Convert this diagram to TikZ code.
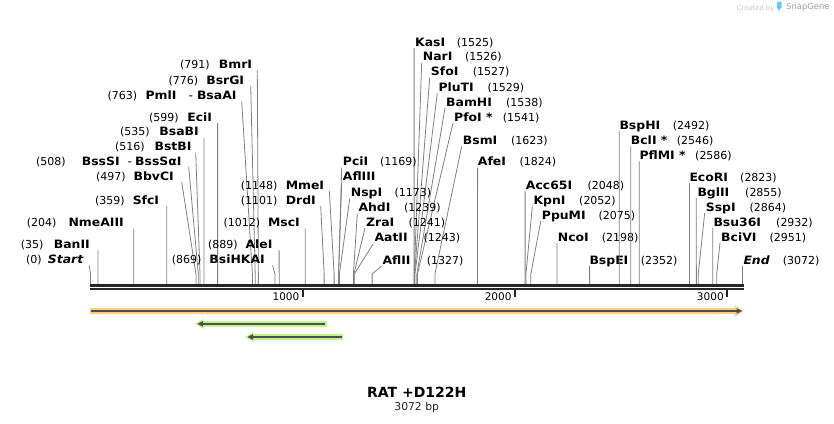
\documentclass[tikz,border=0pt]{standalone}
\usepackage{fontspec}
\setmainfont{DejaVu Sans}
\newfontfamily\namefont{DejaVu Sans}[FakeStretch=1.08]
\usetikzlibrary{calc}
\definecolor{sitegray}{RGB}{128,128,128}
\definecolor{bbcol}{RGB}{38,38,38}
\definecolor{orangeF}{RGB}{255,207,128}
\definecolor{greenF}{RGB}{190,245,140}
\definecolor{featline}{RGB}{77,77,77}
\definecolor{sgblue}{RGB}{100,200,245}
\tikzset{
  lname/.style={font=\namefont\fontsize{11.5}{13}\selectfont\bfseries, inner sep=0pt, text=black},
  lnum/.style={font=\fontsize{11}{13}\selectfont, inner sep=0pt, text=black},
  siteline/.style={draw=sitegray, line width=0.8pt},
  backbone/.style={draw=bbcol, line width=2.7pt},
  ticklbl/.style={font=\fontsize{10.5}{12}\selectfont, inner sep=0pt, anchor=base east},
}
% id, name, number, name right x, baseline, number left x, line top x, bp
\newcommand{\LeftSite}[8]{%
  \node[lname, anchor=base east] (n#1) at (#4,#5) {#2};
  \node[lnum, anchor=base west] (m#1) at (#6,#5) {(#3)};
  \coordinate (t#1) at (#7,{#5+2});
  \coordinate (s#1) at ({90.5+0.2122*#8},274);
  \coordinate (b#1) at ({90.5+0.2122*#8},284);
  \draw[siteline] (t#1) -- (s#1) -- (b#1);
}
% id, name, number, name left x, baseline, number left x, line top x, bp
\newcommand{\RightSite}[8]{%
  \node[lname, anchor=base west] (n#1) at (#4,#5) {#2};
  \node[lnum, anchor=base west] (m#1) at (#6,#5) {(#3)};
  \coordinate (t#1) at (#7,{#5+2});
  \coordinate (s#1) at ({90.5+0.2122*#8},274);
  \coordinate (b#1) at ({90.5+0.2122*#8},284);
  \draw[siteline] (t#1) -- (s#1) -- (b#1);
}
\begin{document}
\begin{tikzpicture}[x=1pt,y=-1pt]
\fill[white] (0,0) rectangle (834,423);
\useasboundingbox (0,0) rectangle (834,423);

% watermark
\node[anchor=base west, inner sep=0pt, font=\fontsize{6.8}{8}\selectfont, text=gray!45] (createdby) at (736.7,10) {Created by};
\fill[sgblue, rounded corners=1pt] (777,1.5) rectangle (781.7,8.5);
\fill[sgblue] (777,7) -- (779.3,12) -- (779.3,7) -- cycle;
\node[anchor=base west, inner sep=0pt, font=\fontsize{8.4}{10}\selectfont, text=gray!75] (snapgene) at (786,9.5) {SnapGene};

% left labels
\LeftSite{start}{\itshape Start}{0}{83.5}{263.3}{26}{89.3}{0}
\LeftSite{banii}{BanII}{35}{90}{248.3}{20.7}{98}{35}
\LeftSite{nme}{NmeAIII}{204}{124}{226.7}{26.7}{133.8}{204}
\LeftSite{sfc}{SfcI}{359}{159.3}{204.3}{95}{166.7}{359}
\LeftSite{bbv}{BbvCI}{497}{174}{180}{96}{181.7}{497}
\LeftSite{bss}{BssSI\hspace{8pt}{\mdseries -}\hspace{3pt}BssSαI}{508}{181.7}{165}{36}{188.7}{508}
\LeftSite{bst}{BstBI}{516}{191.7}{150.7}{115}{195.7}{516}
\LeftSite{bsab}{BsaBI}{535}{199}{135.7}{120}{204}{535}
\LeftSite{eci}{EciI}{599}{212.3}{121}{149}{217.6}{599}
\LeftSite{pml}{PmlI\hspace{12pt}{\mdseries -}\hspace{4pt}BsaAI}{763}{236.7}{99.3}{107.3}{241.7}{763}
\LeftSite{bsrg}{BsrGI}{776}{244.3}{84}{168.3}{250.7}{776}
\LeftSite{bmr}{BmrI}{791}{252.3}{68.3}{180}{257.3}{791}
\LeftSite{bsih}{BsiHKAI}{869}{265}{263.3}{171.7}{272.7}{869}
\LeftSite{ale}{AleI}{889}{272.7}{248.3}{208}{279.1}{889}
\LeftSite{msc}{MscI}{1012}{300}{226.7}{223.3}{305.2}{1012}
\LeftSite{drd}{DrdI}{1101}{316}{204}{240.7}{320.7}{1101}
\LeftSite{mme}{MmeI}{1148}{324.3}{189}{240.7}{329.3}{1148}

% right labels
\RightSite{kas}{KasI}{1525}{415}{46}{456.7}{414.1}{1525}
\RightSite{nar}{NarI}{1526}{422.7}{60.7}{465}{421.7}{1526}
\RightSite{sfo}{SfoI}{1527}{430.7}{75.7}{472.7}{429.7}{1527}
\RightSite{plu}{PluTI}{1529}{438.3}{91}{487.3}{437.3}{1529}
\RightSite{bam}{BamHI}{1538}{446}{106}{506}{445}{1538}
\RightSite{pfo}{PfoI *}{1541}{454}{121}{502.7}{453}{1541}
\RightSite{bsm}{BsmI}{1623}{462.7}{144.3}{511}{461.7}{1623}
\RightSite{afe}{AfeI}{1824}{477.7}{165.7}{519.3}{477.6}{1824}
\RightSite{pci}{PciI}{1169}{342.7}{165.7}{380}{341.7}{1169}
\node[lname, anchor=base west] (naflIII) at (342.7,180.7) {AflIII};
\coordinate (taflIII) at (341.7,182.7);
\draw[siteline] (taflIII) -- (spci) -- (bpci);
\RightSite{nsp}{NspI}{1173}{350.7}{196.7}{394.3}{349.7}{1173}
\RightSite{ahd}{AhdI}{1239}{358.3}{211.7}{404}{357.3}{1239}
\RightSite{zra}{ZraI}{1241}{366}{226}{408.3}{365}{1241}
\RightSite{aat}{AatII}{1243}{374.3}{241.7}{423.3}{373.3}{1243}
\RightSite{aflii}{AflII}{1327}{382.3}{264.3}{426.7}{381.3}{1327}
\RightSite{acc}{Acc65I}{2048}{525.7}{189.3}{587.3}{525.1}{2048}
\RightSite{kpn}{KpnI}{2052}{533.3}{204.3}{579}{532.3}{2052}
\RightSite{ppu}{PpuMI}{2075}{541.7}{219.3}{598.3}{540.7}{2075}
\RightSite{nco}{NcoI}{2198}{557.7}{241}{601.7}{556.9}{2198}
\RightSite{bspe}{BspEI}{2352}{589.3}{264}{640.7}{589.6}{2352}
\RightSite{bsph}{BspHI}{2492}{619.3}{129}{672.7}{619.3}{2492}
\RightSite{bcl}{BclI *}{2546}{630.7}{144.3}{676.7}{630.8}{2546}
\RightSite{pflm}{PflMI *}{2586}{639.3}{159.3}{695}{639.2}{2586}
\RightSite{eco}{EcoRI}{2823}{689.3}{181}{740}{689.5}{2823}
\RightSite{bgl}{BglII}{2855}{697.3}{196}{745}{696.3}{2855}
\RightSite{ssp}{SspI}{2864}{705.7}{211}{749.3}{704.7}{2864}
\RightSite{bsu}{Bsu36I}{2932}{713.3}{226}{776}{712.7}{2932}
\RightSite{bci}{BciVI}{2951}{721}{241}{769.3}{720}{2951}
\RightSite{end}{\itshape End}{3072}{743.3}{264}{782.7}{742.4}{3072}

% backbone
\coordinate (bbL1) at (90,285.4);
\coordinate (bbR1) at (743.5,285.4);
\coordinate (bbL2) at (90,289);
\coordinate (bbR2) at (743.5,289);
\draw[backbone] (bbL1) -- (bbR1);
\draw[backbone] (bbL2) -- (bbR2);

% ticks
\foreach \v/\xx in {1000/302.7, 2000/514.9, 3000/727.1}{
  \draw[bbcol, line width=2pt] (\xx,290.3) -- (\xx,297.3);
  \node[ticklbl] (tick\v) at (\xx-3.2,300.6) {\v};
}

% orange feature (forward)
\fill[orangeF] (90,308.3) rectangle (736,313.7);
\fill[orangeF] (735,305.3) -- (743.5,311) -- (735,316.7) -- cycle;
\draw[featline, line width=1.7pt] (91,311) -- (738,311);
\fill[featline] (736.5,308.2) -- (742,311) -- (736.5,313.8) -- cycle;

% green feature 1 (reverse)
\fill[greenF] (203,321) rectangle (326.7,326.7);
\fill[greenF] (195,323.85) -- (203.5,318.8) -- (203.5,328.9) -- cycle;
\draw[featline, line width=1.7pt] (201,323.85) -- (325,323.85);
\fill[featline] (197.5,323.85) -- (203,321) -- (203,326.7) -- cycle;

% green feature 2 (reverse)
\fill[greenF] (253,334.2) rectangle (343.3,339.8);
\fill[greenF] (245,337) -- (253.5,332) -- (253.5,342) -- cycle;
\draw[featline, line width=1.7pt] (251,337) -- (341.5,337);
\fill[featline] (247.5,337) -- (253,334.2) -- (253,339.8) -- cycle;

% title
\node[anchor=base, inner sep=0pt, font=\fontsize{14}{16}\selectfont\bfseries] (title) at (416.7,397.3) {RAT +D122H};
\node[anchor=base, inner sep=0pt, font=\fontsize{10.8}{12}\selectfont, text=black!85] (bplen) at (416.7,410.7) {3072 bp};
\end{tikzpicture}
\end{document}
